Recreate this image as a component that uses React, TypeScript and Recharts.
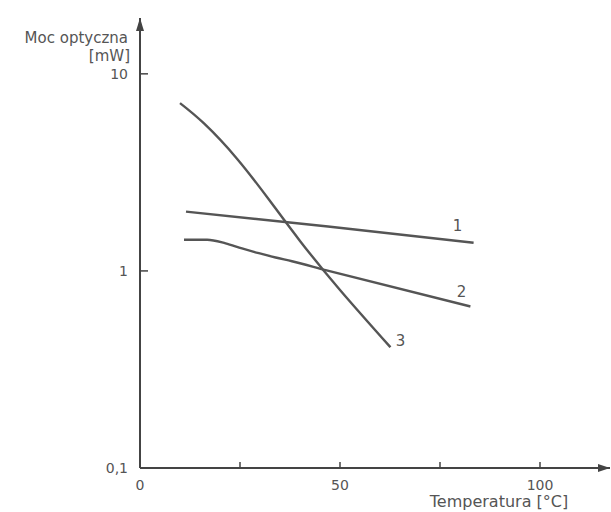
import React from 'react';
import { LineChart, Line, XAxis, YAxis, ReferenceDot, LabelList } from 'recharts';

const curve1 = [
  { x: 11.5, y: 2.0 },
  { x: 47, y: 1.68 },
  { x: 83.4, y: 1.39 },
];
const curve2 = [
  { x: 11, y: 1.44 },
  { x: 16.8, y: 1.44 },
  { x: 21.4, y: 1.38 },
  { x: 25.5, y: 1.3 },
  { x: 29.7, y: 1.23 },
  { x: 33.9, y: 1.17 },
  { x: 38, y: 1.12 },
  { x: 46.4, y: 1.01 },
  { x: 82.6, y: 0.66 },
];
const curve3 = [
  { x: 10, y: 7.1 },
  { x: 16, y: 5.6 },
  { x: 24.3, y: 3.7 },
  { x: 32.6, y: 2.25 },
  { x: 40, y: 1.42 },
  { x: 50, y: 0.8 },
  { x: 62.6, y: 0.41 },
];
const seriesNames = ['1', '2', '3'];
const xTicks = [0, 25, 50, 75, 100];
const xLabelled = [0, 50, 100];
const yTicks = [0.1, 1, 10];
const X_MAX = 117.5;
const Y_MIN = 0.1;
const Y_MAX = 19.2;

const INK = '#555';
const AXIS = '#444';
const FONT = 'DejaVu Sans';

const makeEndLabel = (len: number, name: string, dx: number, dy: number) => (props: any) => {
  const { x, y, index } = props;
  if (index !== len - 1) return null;
  return (
    <text x={x + dx} y={y + dy} fill={INK} fontSize={15} fontFamily={FONT} textAnchor="middle">
      {name}
    </text>
  );
};

const ArrowRight = (props: any) => {
  const { cx, cy } = props;
  return <path d={`M${cx},${cy} L${cx - 12},${cy - 4} L${cx - 12},${cy + 4} Z`} fill={AXIS} />;
};
const ArrowUp = (props: any) => {
  const { cx, cy } = props;
  return <path d={`M${cx},${cy} L${cx - 4},${cy + 13} L${cx + 4},${cy + 13} Z`} fill={AXIS} />;
};

const YLabel = (props: any) => {
  const vb = props.viewBox || { x: 0, y: 18, width: 140 };
  const rx = vb.x + vb.width - 11;
  return (
    <g>
      <text x={rx - 1} y={vb.y + 25} textAnchor="end" fill={INK} fontSize={15} fontFamily={FONT}>
        Moc optyczna
      </text>
      <text x={rx + 1} y={vb.y + 43} textAnchor="end" fill={INK} fontSize={15} fontFamily={FONT}>
        [mW]
      </text>
    </g>
  );
};

const XLabel = (props: any) => {
  const vb = props.viewBox || { x: 140, y: 468, width: 470 };
  return (
    <text x={vb.x + 359} y={vb.y + 39} textAnchor="middle" fill={INK} fontSize={16} fontFamily={FONT}>
      Temperatura [°C]
    </text>
  );
};

export default function App() {
  return (
    <div style={{ position: 'absolute', left: 0, top: 0, background: '#fff' }}>
      <LineChart
        width={611}
        height={512}
        margin={{ top: 18, right: 1, bottom: 0, left: 0 }}
      >
        <XAxis
          type="number"
          dataKey="x"
          domain={[0, X_MAX]}
          ticks={xTicks}
          allowDataOverflow
          height={44}
          tickSize={-6}
          tickMargin={18}
          tickFormatter={(v: number) => (xLabelled.includes(v) ? String(v) : '')}
          tick={{ fill: INK, fontSize: 14, fontFamily: FONT }}
          axisLine={{ stroke: AXIS, strokeWidth: 2 }}
          tickLine={{ stroke: AXIS, strokeWidth: 1.5 }}
          label={<XLabel />}
        />
        <YAxis
          type="number"
          dataKey="y"
          scale="log"
          domain={[Y_MIN, Y_MAX]}
          ticks={yTicks}
          allowDataOverflow
          width={140}
          tickSize={-8}
          tickMargin={20}
          tickFormatter={(v: number) => (v < 1 ? String(v).replace('.', ',') : String(v))}
          tick={{ fill: INK, fontSize: 14, fontFamily: FONT }}
          axisLine={{ stroke: AXIS, strokeWidth: 2 }}
          tickLine={{ stroke: AXIS, strokeWidth: 1.5 }}
          label={<YLabel />}
        />
        <Line
          data={curve1}
          dataKey="y"
          type="monotone"
          stroke={INK}
          strokeWidth={2.4}
          dot={false}
          isAnimationActive={false}
        >
          <LabelList dataKey="y" content={makeEndLabel(curve1.length, seriesNames[0], -16, -12)} />
        </Line>
        <Line
          data={curve2}
          dataKey="y"
          type="monotone"
          stroke={INK}
          strokeWidth={2.4}
          dot={false}
          isAnimationActive={false}
        >
          <LabelList dataKey="y" content={makeEndLabel(curve2.length, seriesNames[1], -9, -9)} />
        </Line>
        <Line
          data={curve3}
          dataKey="y"
          type="natural"
          stroke={INK}
          strokeWidth={2.4}
          dot={false}
          isAnimationActive={false}
        >
          <LabelList dataKey="y" content={makeEndLabel(curve3.length, seriesNames[2], 10, -1)} />
        </Line>
        <ReferenceDot x={X_MAX} y={Y_MIN} r={0} ifOverflow="visible" shape={<ArrowRight />} />
        <ReferenceDot x={0} y={Y_MAX} r={0} ifOverflow="visible" shape={<ArrowUp />} />
      </LineChart>
    </div>
  );
}
